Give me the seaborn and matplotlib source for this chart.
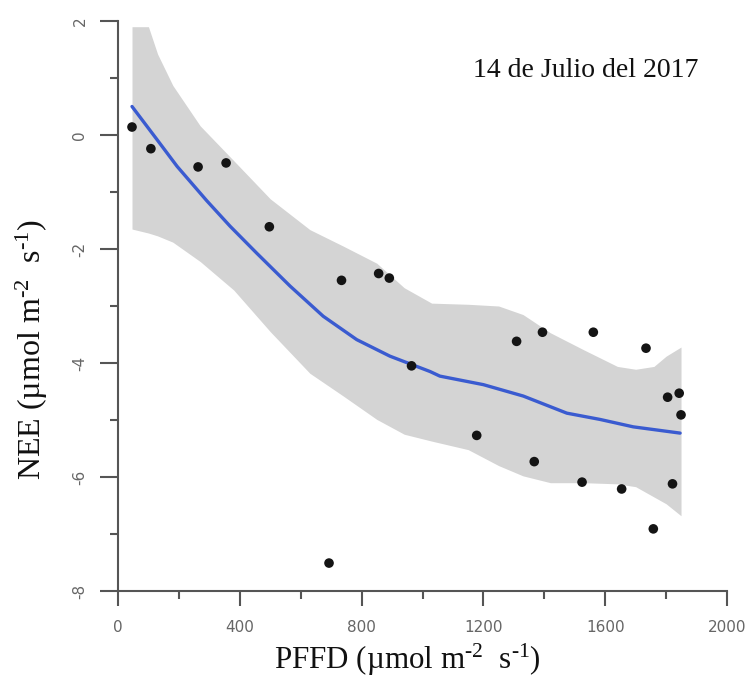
import numpy as np
import pandas as pd
import matplotlib
matplotlib.use("Agg")
import matplotlib.pyplot as plt
import seaborn as sns

# ---- data ----
pffd = [46, 108, 263, 355, 497, 734, 856, 891, 693, 964, 1178, 1309, 1394,
        1367, 1561, 1524, 1734, 1654, 1758, 1805, 1843, 1849, 1821]
nee = [0.14, -0.24, -0.56, -0.49, -1.61, -2.55, -2.43, -2.51, -7.51, -4.05,
       -5.27, -3.62, -3.46, -5.73, -3.46, -6.09, -3.74, -6.21, -6.91, -4.60,
       -4.53, -4.91, -6.12]

fit_x = [46, 128, 194, 291, 368, 455, 565, 674, 784, 893, 1025, 1057,
         1200, 1331, 1474, 1583, 1692, 1846]
fit_y = [0.50, -0.08, -0.55, -1.15, -1.60, -2.07, -2.65, -3.18, -3.59,
         -3.88, -4.15, -4.23, -4.38, -4.58, -4.88, -4.99, -5.12, -5.23]

band_x = [46, 100, 130, 180, 270, 380, 500, 630, 740, 850, 940, 1030, 1150,
          1250, 1330, 1420, 1530, 1640, 1700, 1760, 1800, 1849]
band_hi = [1.90, 1.90, 1.42, 0.87, 0.16, -0.45, -1.12, -1.66, -1.95, -2.25,
           -2.68, -2.95, -2.97, -3.00, -3.15, -3.47, -3.77, -4.06, -4.11,
           -4.06, -3.88, -3.72]
band_lo = [-1.65, -1.72, -1.77, -1.88, -2.22, -2.72, -3.45, -4.18, -4.58,
           -4.99, -5.25, -5.37, -5.52, -5.80, -5.98, -6.10, -6.10, -6.12,
           -6.17, -6.35, -6.47, -6.68]

x_ticks = [0, 400, 800, 1200, 1600, 2000]
x_ticklabels = ["0", "400", "800", "1200", "1600", "2000"]
y_ticks = [2, 0, -2, -4, -6, -8]
y_ticklabels = ["2", "0", "-2", "-4", "-6", "-8"]

title_text = "14 de Julio del 2017"
xlabel = "PFFD (\u00b5mol m$^{\\text{-2}}$  s$^{\\text{-1}}$)"
ylabel = "NEE (\u00b5mol m$^{\\text{-2}}$  s$^{\\text{-1}}$)"

# ---- style ----
sns.set_style("ticks")
plt.rcParams["font.family"] = ["DejaVu Sans"]
plt.rcParams["axes.unicode_minus"] = False
plt.rcParams["mathtext.fontset"] = "custom"
plt.rcParams["mathtext.rm"] = "Liberation Serif"
plt.rcParams["mathtext.it"] = "Liberation Serif"
plt.rcParams["mathtext.default"] = "regular"

fig = plt.figure(figsize=(7.47, 6.80), dpi=100)
ax = fig.add_axes([118 / 747, 89 / 680, 609 / 747, 570 / 680])

band = pd.DataFrame({"x": band_x, "hi": band_hi, "lo": band_lo})
ax.fill_between(band["x"], band["lo"], band["hi"], color="#d4d4d4",
                linewidth=0, zorder=1)

fit = pd.DataFrame({"x": fit_x, "y": fit_y})
sns.lineplot(data=fit, x="x", y="y", ax=ax, color="#3a5bd0", linewidth=2.4,
             zorder=3)

pts = pd.DataFrame({"PFFD": pffd, "NEE": nee})
sns.scatterplot(data=pts, x="PFFD", y="NEE", ax=ax, color="#141414", s=48,
                edgecolor="none", zorder=4)

ax.set_xlim(0, 2000)
ax.set_ylim(-8, 2)
ax.set_xticks(x_ticks)
ax.set_xticklabels(x_ticklabels)
ax.set_yticks(y_ticks)
ax.set_yticklabels(y_ticklabels, rotation=90, va="center")
ax.set_xticks([200, 600, 1000, 1400, 1800], minor=True)
ax.set_yticks([1, -1, -3, -5, -7], minor=True)

ax.tick_params(axis="both", which="major", colors="#555555",
               labelcolor="#666666", labelsize=11, width=1.5)
ax.tick_params(axis="x", which="major", length=11, pad=10)
ax.tick_params(axis="y", which="major", length=13, pad=9)
ax.tick_params(axis="both", which="minor", colors="#555555", width=1.5,
               length=5.5)

for side in ["top", "right"]:
    ax.spines[side].set_visible(False)
for side in ["left", "bottom"]:
    ax.spines[side].set_color("#555555")
    ax.spines[side].set_linewidth(1.5)

ax.set_xlabel(xlabel, family="Liberation Serif", fontsize=22.3, color="#111111")
ax.set_ylabel(ylabel, family="Liberation Serif", fontsize=23, color="#111111")
ax.xaxis.set_label_coords(0.475, -0.09)
ax.yaxis.set_label_coords(-0.112, 0.423)

ax.text(0.583, 0.902, title_text, transform=ax.transAxes,
        family="Liberation Serif", fontsize=20, color="#111111",
        ha="left", va="baseline")

fig.savefig("out.png", dpi=100)
